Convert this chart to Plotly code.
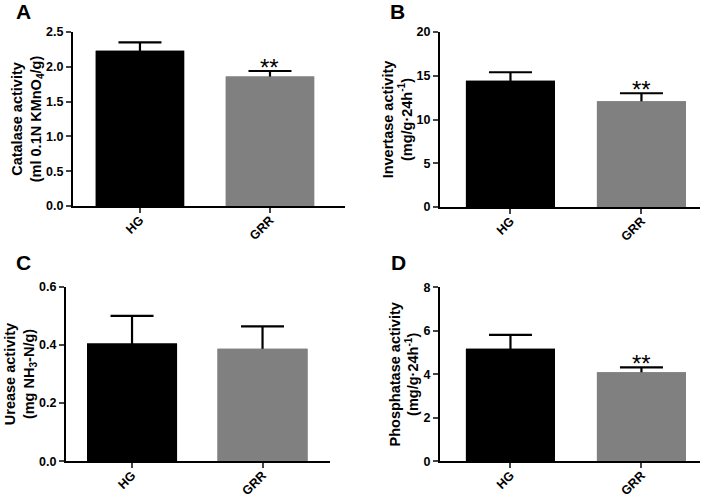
import plotly.graph_objects as go

groups = ["HG", "GRR"]
catalase = [2.23, 1.86]
catalase_err = [0.12, 0.08]
invertase = [14.43, 12.08]
invertase_err = [0.97, 0.92]
urease = [0.405, 0.387]
urease_err = [0.095, 0.077]
phosphatase = [5.18, 4.10]
phosphatase_err = [0.63, 0.22]
signif = ["", "**"]  # significance markers per group
signif_c = ["", ""]

panels = [
    dict(letter="A", vals=catalase, errs=catalase_err, sig=signif,
         title="Catalase activity<br>(ml 0.1N KMnO<sub>4</sub>/g)",
         yrange=[0, 2.5], dtick=0.5, fmt=".1f",
         xdom=[73/710, 345/710], ydom=[1-206/498, 1-32/498],
         xr=[-0.515, 1.577], width=0.68, lx=24, ly=12),
    dict(letter="B", vals=invertase, errs=invertase_err, sig=signif,
         title="Invertase activity<br>(mg/g·24h<sup>-1</sup>)",
         yrange=[0, 20], dtick=5, fmt="d",
         xdom=[440/710, 700/710], ydom=[1-207/498, 1-32/498],
         xr=[-0.538, 1.447], width=0.68, lx=397, ly=12),
    dict(letter="C", vals=urease, errs=urease_err, sig=signif_c,
         title="Urease activity<br>(mg NH<sub>3</sub>-N/g)",
         yrange=[0, 0.6], dtick=0.2, fmt=".1f",
         xdom=[66/710, 330/710], ydom=[1-461.3/498, 1-286.7/498],
         xr=[-0.506, 1.517], width=0.69, lx=24, ly=262),
    dict(letter="D", vals=phosphatase, errs=phosphatase_err, sig=signif,
         title="Phosphatase activity<br>(mg/g·24h<sup>-1</sup>)",
         yrange=[0, 8], dtick=2, fmt="d",
         xdom=[440/710, 700/710], ydom=[1-461.3/498, 1-287.3/498],
         xr=[-0.538, 1.447], width=0.68, lx=398, ly=262),
]

FONT = "Liberation Sans, Arial, sans-serif"
colors = ["#000000", "#808080"]

fig = go.Figure()
annotations = []
layout = {}
for i, p in enumerate(panels):
    n = "" if i == 0 else str(i + 1)
    xa, ya = "x" + n, "y" + n
    # bars with error bars, then the same bars on top to hide the lower half
    fig.add_trace(go.Bar(
        x=[0, 1], y=p["vals"], width=p["width"],
        marker=dict(color=colors, line=dict(width=0)),
        error_y=dict(type="data", array=p["errs"], symmetric=True,
                     color="black", thickness=2.2, width=21.5),
        xaxis=xa, yaxis=ya, showlegend=False, hoverinfo="skip"))
    fig.add_trace(go.Bar(
        x=[0, 1], y=p["vals"], width=p["width"],
        marker=dict(color=colors, line=dict(width=0)),
        xaxis=xa, yaxis=ya, showlegend=False))
    layout["xaxis" + n] = dict(
        domain=p["xdom"], anchor=ya, range=p["xr"], automargin=False,
        tickmode="array", tickvals=[0, 1], ticktext=groups,
        tickangle=-45, ticks="outside", ticklen=5, tickwidth=2,
        ticklabelstandoff=-5,
        showline=True, linecolor="black", linewidth=2, showgrid=False,
        zeroline=False, fixedrange=True,
        tickfont=dict(family=FONT, size=12.5, color="black", weight="bold"))
    layout["yaxis" + n] = dict(
        domain=p["ydom"], anchor=xa, range=p["yrange"], dtick=p["dtick"],
        automargin=False,
        tickformat=p["fmt"], ticks="outside", ticklen=5, tickwidth=2,
        showline=True, linecolor="black", linewidth=2, showgrid=False,
        zeroline=False,
        tickfont=dict(family=FONT, size=12.5, color="black", weight="bold"),
        title=dict(text=p["title"], standoff=1,
                   font=dict(family=FONT, size=14.5, color="black", weight="bold")))
    for j, s in enumerate(p["sig"]):
        if s:
            annotations.append(dict(
                x=j, y=p["vals"][j] + p["errs"][j], xref=xa, yref=ya,
                text=s, showarrow=False, yanchor="bottom", yshift=-12,
                font=dict(family=FONT, size=24, color="black")))
    annotations.append(dict(
        x=p["lx"] / 710, y=1 - p["ly"] / 498, xref="paper", yref="paper",
        text="<b>" + p["letter"] + "</b>", showarrow=False,
        xanchor="center", yanchor="middle",
        font=dict(family=FONT, size=21, color="black")))

fig.update_layout(
    width=710, height=498,
    margin=dict(l=0, r=0, t=0, b=0, pad=0, autoexpand=False),
    paper_bgcolor="white", plot_bgcolor="white", barmode="overlay",
    annotations=annotations, **layout)

fig.write_html(
    "out.html",
    config={"displayModeBar": False},
    post_script="document.body.style.margin='0';document.body.style.overflow='hidden';")
